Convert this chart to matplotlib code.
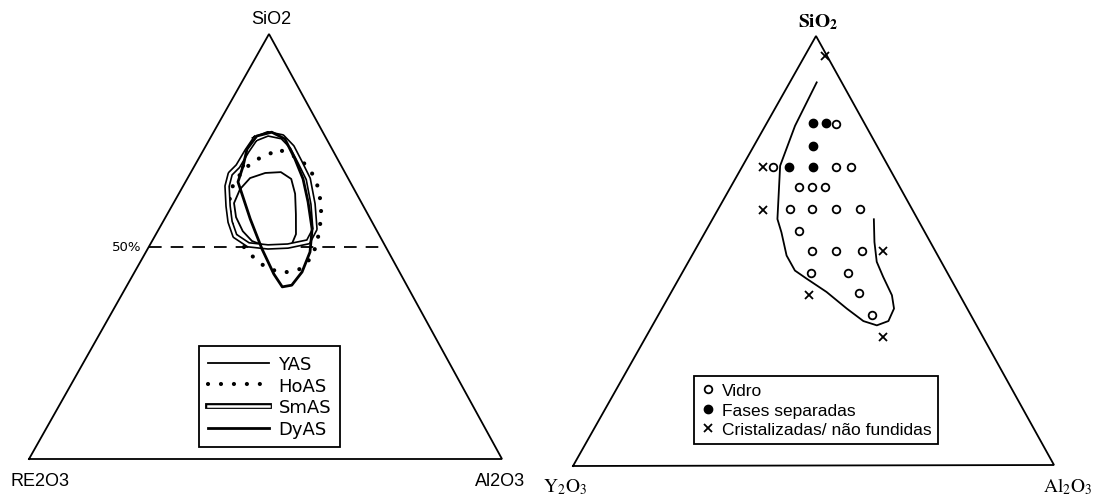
import numpy as np
import matplotlib.pyplot as plt
from matplotlib.lines import Line2D
from matplotlib.legend_handler import HandlerTuple

plt.rcParams['mathtext.fontset'] = 'stix'

# ---- left diagram: SiO2-Al2O3-RE2O3, mol% (RE2O3 is the remainder) ----
yas_sio2 = [63.5, 66.1, 67.3, 67.5, 65.9, 62.4, 57.6, 52.9, 50.6, 49.9, 50.1, 51.3, 53.6, 56.9, 60.2]
yas_al2o3 = [12.4, 13.2, 15.8, 19.0, 22.0, 24.6, 27.2, 29.6, 29.9, 28.0, 24.5, 21.1, 18.0, 14.9, 12.8]

hoas_sio2 = [72.5, 70.6, 67.8, 64.5, 61.2, 57.9, 54.6, 50.8, 47.5, 44.7, 43.8, 44.9, 47.3, 49.9,
             52.7, 56.5, 60.5, 64.2, 67.8, 70.1, 71.8]
hoas_al2o3 = [16.7, 21.5, 25.2, 28.2, 30.5, 32.4, 33.8, 35.1, 35.7, 34.6, 31.5, 27.5, 23.6, 20.1,
              17.0, 13.8, 11.6, 10.5, 10.7, 12.0, 14.1]

smas_sio2 = [75.3, 76.5, 75.8, 73.4, 69.9, 65.9, 60.0, 54.1, 51.1, 50.1, 49.9, 50.4, 52.5, 55.8,
             59.5, 64.2, 67.1, 68.9, 72.5]
smas_al2o3 = [9.6, 11.7, 15.1, 18.4, 21.8, 25.6, 29.6, 33.0, 33.1, 29.3, 25.2, 20.8, 16.9, 14.2,
              11.9, 9.3, 8.5, 9.2, 9.3]

dyas_sio2 = [68.9, 65.2, 56.5, 49.4, 43.5, 40.5, 40.9, 44.0, 48.7, 54.1, 60.5, 65.9, 70.6, 75.3,
             76.9, 76.0, 72.9]
dyas_al2o3 = [10.3, 11.1, 18.1, 24.2, 29.7, 33.0, 34.8, 35.4, 34.7, 32.4, 28.3, 24.5, 20.4, 15.9,
              12.3, 9.6, 9.1]

sio2_ref = 50  # the dashed 50% SiO2 line

# ---- right diagram: SiO2-Al2O3-Y2O3, mol% (Y2O3 is the remainder) ----
vidro_sio2 = [79.5, 69.5, 69.5, 69.5, 64.9, 64.9, 64.9, 59.8, 59.8, 59.8, 59.8, 54.6,
              49.9, 49.9, 49.9, 44.9, 44.9, 40.2, 35.1]
vidro_al2o3 = [14.6, 6.5, 19.5, 22.7, 14.1, 16.8, 19.6, 14.9, 19.4, 24.5, 29.5, 19.5,
               24.4, 29.4, 34.8, 26.9, 34.4, 39.2, 44.4]

fases_sio2 = [79.8, 79.8, 74.3, 69.5, 69.5]
fases_al2o3 = [9.5, 12.3, 12.3, 9.8, 14.7]

crist_sio2 = [95.3, 69.5, 59.5, 49.9, 39.8, 29.9]
crist_al2o3 = [4.2, 4.4, 9.4, 39.2, 29.0, 49.3]

# glass-forming region boundary (open curve)
region_sio2 = [89.2, 79.1, 69.8, 57.4, 54.3, 48.9, 45.4, 43.5, 40.4, 36.5, 33.6, 32.6, 33.6,
               36.5, 39.6, 43.9, 47.4, 52.0, 57.3]
region_al2o3 = [5.6, 6.2, 7.8, 13.5, 15.9, 19.7, 23.2, 26.6, 32.3, 38.5, 43.4, 46.7, 48.6,
                48.3, 46.3, 42.3, 39.2, 36.4, 33.6]

# triangle corners in figure pixels (top = SiO2, right = Al2O3, left = oxide)
LEFT_TRI = {'top': (269, 35), 'left': (29, 460), 'right': (502, 460)}
RIGHT_TRI = {'top': (816, 37), 'left': (573, 467), 'right': (1054, 466)}


def to_xy(tri, sio2, al2o3, close=False):
    s = np.asarray(sio2, dtype=float) / 100
    a = np.asarray(al2o3, dtype=float) / 100
    if close:
        s = np.append(s, s[0])
        a = np.append(a, a[0])
    r = 1 - s - a
    x = s * tri['top'][0] + a * tri['right'][0] + r * tri['left'][0]
    y = s * tri['top'][1] + a * tri['right'][1] + r * tri['left'][1]
    return x, y


def draw_triangle(ax, tri):
    xs = [tri['left'][0], tri['top'][0], tri['right'][0], tri['left'][0]]
    ys = [tri['left'][1], tri['top'][1], tri['right'][1], tri['left'][1]]
    ax.plot(xs, ys, color='black', lw=1.3, solid_joinstyle='miter')


fig = plt.figure(figsize=(11, 5.02), dpi=100)
ax = fig.add_axes([0, 0, 1, 1])
ax.set_xlim(0, 1100)
ax.set_ylim(502, 0)
ax.axis('off')

# ---------------- left diagram ----------------
draw_triangle(ax, LEFT_TRI)

# dashed 50% SiO2 line across the triangle
x50, y50 = to_xy(LEFT_TRI, [sio2_ref, sio2_ref], [0, 100 - sio2_ref])
ax.plot(x50, y50, color='black', lw=1.3, linestyle=(0, (7, 5)))
ax.text(x50[0] - 8, y50[0], '50%', ha='right', va='center', fontsize=9.5,
        family=['Liberation Sans Narrow', 'DejaVu Sans'])

x, y = to_xy(LEFT_TRI, yas_sio2, yas_al2o3, close=True)
h_yas, = ax.plot(x, y, color='black', lw=1.3)

x, y = to_xy(LEFT_TRI, hoas_sio2, hoas_al2o3, close=True)
h_hoas, = ax.plot(x, y, color='black', lw=3, linestyle=(0, (0.01, 3.1)),
                  dash_capstyle='round')

x, y = to_xy(LEFT_TRI, smas_sio2, smas_al2o3, close=True)
h_smas_out, = ax.plot(x, y, color='black', lw=4.2)
h_smas_in, = ax.plot(x, y, color='white', lw=1.8)

x, y = to_xy(LEFT_TRI, dyas_sio2, dyas_al2o3, close=True)
h_dyas, = ax.plot(x, y, color='black', lw=2.0)

sans = ['Liberation Sans', 'DejaVu Sans']
ax.text(271, 20, 'SiO2', ha='center', va='center', fontsize=13, family=sans)
ax.text(40, 482, 'RE2O3', ha='center', va='center', fontsize=13, family=sans)
ax.text(500, 482, 'Al2O3', ha='center', va='center', fontsize=13, family=sans)

leg1 = ax.legend([h_yas, h_hoas, (h_smas_out, h_smas_in), h_dyas],
                 ['YAS', 'HoAS', 'SmAS', 'DyAS'],
                 handler_map={tuple: HandlerTuple(ndivide=1)},
                 loc='upper left', bbox_to_anchor=(199, 347), bbox_transform=ax.transData,
                 borderaxespad=0, fancybox=False, edgecolor='black', framealpha=1,
                 handlelength=3.4, handletextpad=0.5, labelspacing=0.2, borderpad=0.5,
                 prop={'family': ['Liberation Sans Narrow', 'DejaVu Sans'], 'size': 13})
leg1.get_frame().set_linewidth(1.3)
ax.add_artist(leg1)

# ---------------- right diagram ----------------
draw_triangle(ax, RIGHT_TRI)

x, y = to_xy(RIGHT_TRI, region_sio2, region_al2o3)
ax.plot(x, y, color='black', lw=1.3)

x, y = to_xy(RIGHT_TRI, vidro_sio2, vidro_al2o3)
h_vidro, = ax.plot(x, y, 'o', ms=5.5, mfc='white', mec='black', mew=1.3, ls='none')
x, y = to_xy(RIGHT_TRI, fases_sio2, fases_al2o3)
h_fases, = ax.plot(x, y, 'o', ms=6, mfc='black', mec='black', ls='none')
x, y = to_xy(RIGHT_TRI, crist_sio2, crist_al2o3)
h_crist, = ax.plot(x, y, 'x', ms=6, mec='black', mew=1.3, ls='none')

ax.text(818, 22, r'$\mathbf{SiO_2}$', ha='center', va='center', fontsize=14)
ax.text(565, 487, r'$\mathrm{Y_2O_3}$', ha='center', va='center', fontsize=14)
ax.text(1068, 487, r'$\mathrm{Al_2O_3}$', ha='center', va='center', fontsize=14)

leg2 = ax.legend([h_vidro, h_fases, h_crist],
                 ['Vidro', 'Fases separadas', 'Cristalizadas/ não fundidas'],
                 loc='upper left', bbox_to_anchor=(694, 377), bbox_transform=ax.transData,
                 borderaxespad=0, fancybox=False, edgecolor='black', framealpha=1,
                 handlelength=0.8, handletextpad=0.4, labelspacing=0.25, borderpad=0.4,
                 markerscale=1.0, prop={'family': sans, 'size': 12.5})
leg2.get_frame().set_linewidth(1.3)

fig.savefig('out.png', dpi=100, facecolor='white')
